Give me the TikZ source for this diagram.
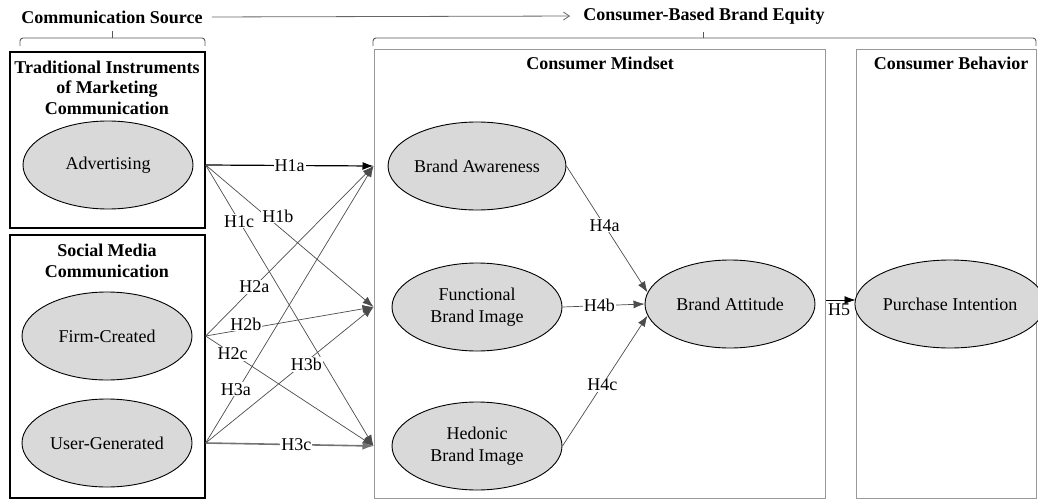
\documentclass[tikz,border=0pt]{standalone}
\usepackage{fontspec}
\setmainfont{Liberation Serif}
\usetikzlibrary{arrows.meta,shapes.geometric,calc}
\begin{document}
\begin{tikzpicture}[x=1pt,y=-1pt,
  grp/.style={draw=black, line width=1.3pt, inner sep=0pt},
  panel/.style={draw=black!40, line width=1pt, inner sep=0pt},
  ttl/.style={font=\fontsize{18}{20.5}\selectfont\bfseries, align=center, inner sep=0pt},
  lat/.style={ellipse, draw=black, line width=0.9pt, fill=black!15,
    minimum width=170pt, minimum height=88pt, inner sep=0pt, align=center,
    font=\fontsize{18}{22}\selectfont},
  con/.style={draw=black!70, line width=0.7pt, -{Latex[length=11pt,width=8pt]}},
  lab/.style={fill=white, inner sep=1pt, font=\fontsize{18}{20}\selectfont},
  brace/.style={draw=black!65, line width=0.9pt, rounded corners=3pt}]
\useasboundingbox (0,0) rectangle (1038,500);

% headline
\node[ttl, inner sep=3pt] (src) at (112,17) {Communication Source};
\node[ttl, inner sep=3pt] (cbbe) at (704,16) {Consumer-Based Brand Equity};
\draw[draw=black!60, line width=0.8pt, -{Straight Barb[length=6pt,width=8pt]},
  shorten <=6pt, shorten >=10pt] (src.east) -- (cbbe.west);

% braces
\draw[brace] (20,46) -- (20,38) -- (205,38) -- (205,46);
\draw[brace] (112,38) -- (112,31);
\draw[brace] (373,46) -- (373,38) -- (1036,38) -- (1036,46);
\draw[brace] (703,38) -- (703,32);

% group boxes
\node[grp, minimum width=195pt, minimum height=176pt] (trad) at (107.5,140) {};
\node[grp, minimum width=195pt, minimum height=263pt] (soc) at (107.5,366.5) {};
\node[panel, minimum width=451pt, minimum height=448pt] (mind) at (599.5,274) {};
\node[panel, minimum width=180pt, minimum height=448pt] (beh) at (946,274) {};

\node[ttl] (tradT) at (107,87.5) {Traditional Instruments\\of Marketing\\Communication};
\node[ttl] (socT) at (107,261) {Social Media\\Communication};
\node[ttl] (mindT) at (600,63) {Consumer Mindset};
\node[ttl] (behT) at (951,63) {Consumer Behavior};

% constructs
\node[lat] (adv) at (108,165) {Advertising};
\node[lat] (firm) at (107,336) {Firm-Created};
\node[lat] (user) at (107,443) {User-Generated};
\node[lat] (aware) at (477,166) {Brand Awareness};
\node[lat] (func) at (477,307) {Functional\\Brand Image};
\node[lat] (hed) at (477,446) {Hedonic\\Brand Image};
\node[lat] (att) at (730,304) {Brand Attitude};
\node[lat] (pur) at (950,304) {Purchase Intention};

% connection points on the group borders
\coordinate (sA) at (trad.east |- adv);
\coordinate (sF) at (soc.east |- firm);
\coordinate (sU) at (soc.east |- user);
\coordinate (tA) at (mind.west |- aware);
\coordinate (tF) at (mind.west |- func);
\coordinate (tH) at (mind.west |- hed);

% hypotheses H1-H3
\draw[con, draw=black, line width=1.2pt] (sA) -- node[lab, pos=0.5] {H1a} (tA);
\draw[con] (sA) -- node[lab, pos=0.43, yshift=10pt] {H1b} (tF);
\draw[con] (sA) -- node[lab, pos=0.2] {H1c} (tH);
\draw[con] (sF) -- node[lab, pos=0.29] {H2a} (tA);
\draw[con] (sF) -- node[lab, pos=0.24, yshift=5pt] {H2b} (tF);
\draw[con] (sF) -- node[lab, pos=0.16] {H2c} (tH);
\draw[con] (sU) -- node[lab, pos=0.18, yshift=4pt] {H3a} (tA);
\draw[con] (sU) -- node[lab, pos=0.6, yshift=-3pt] {H3b} (tF);
\draw[con, draw=black!55, line width=1.6pt] (sU) -- node[lab, pos=0.54] {H3c} (tH);

% hypotheses H4
\draw[con] (aware.east) -- node[lab, pos=0.47] {H4a} (att.172);
\draw[con] (func.east) -- node[lab, pos=0.45] {H4b} (att.west);
\draw[con] (hed.east) -- node[lab, pos=0.47] {H4c} (att.188);

% hypothesis H5
\coordinate (h5s) at ($(mind.east |- att)+(0,-4)$);
\coordinate (h5t) at ($(beh.west |- att)+(0,-4)$);
\draw[con, draw=black] (h5s) -- (h5t);
\node[lab, fill=none, anchor=north, inner sep=0pt] (h5) at ($(h5s)!0.45!(h5t)+(0,4)$) {H5};
\end{tikzpicture}
\end{document}
